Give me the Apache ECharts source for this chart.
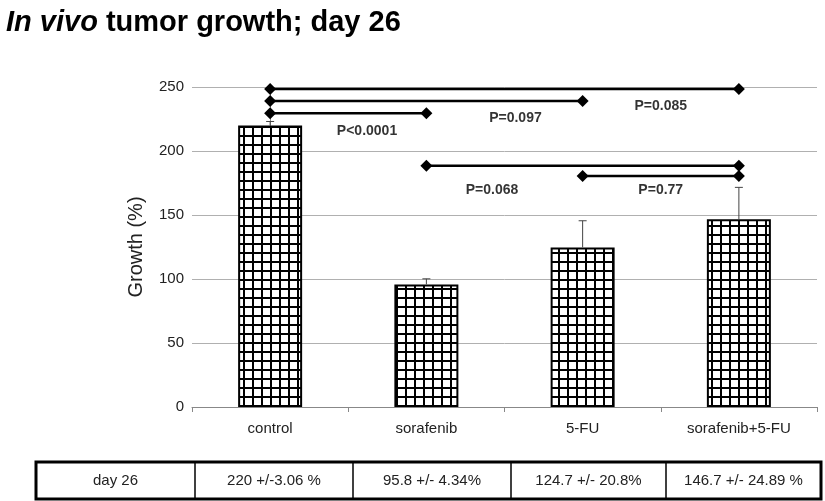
<!DOCTYPE html>
<html>
<head>
<meta charset="utf-8">
<script src="https://cdn.jsdelivr.net/npm/echarts@6/dist/echarts.min.js"></script>
<style>
  html, body { margin: 0; padding: 0; background: #fff; }
  #main { width: 825px; height: 501px; }
</style>
</head>
<body>
<div id="main"></div>
<script>
// groups and values (day 26)
var groups = ['control', 'sorafenib', '5-FU', 'sorafenib+5-FU'];
var growth = [220, 95.8, 124.7, 146.7];
var growthErr = [3.06, 4.34, 20.8, 24.89];
var yTicks = [0, 50, 100, 150, 200, 250];

// significance brackets: from group index -> to group index at height y
var bracketFrom = [0, 0, 0, 1, 2];
var bracketTo = [3, 2, 1, 3, 3];
var bracketY = [248.5, 239, 229.5, 188.5, 180.5];

// p-value labels (x in group units, y in growth units)
var pText = ['P=0.085', 'P=0.097', 'P<0.0001', 'P=0.068', 'P=0.77'];
var pX = [2.5, 1.57, 0.62, 1.42, 2.5];
var pY = [235, 226, 215.5, 169.5, 169.5];

// table under the chart
var tableRow = ['day 26', '220 +/-3.06 %', '95.8 +/- 4.34%', '124.7 +/- 20.8%', '146.7 +/- 24.89 %'];

var font = "'Liberation Sans', Arial, Helvetica, sans-serif";

// grid pattern for the bars
function makeGrid() {
  var c = document.createElement('canvas');
  c.width = 9; c.height = 9;
  var ctx = c.getContext('2d');
  ctx.fillStyle = '#fff';
  ctx.fillRect(0, 0, 9, 9);
  ctx.fillStyle = '#000';
  ctx.fillRect(0, 0, 9, 2);
  ctx.fillRect(0, 0, 2, 9);
  return c;
}

var myChart = echarts.init(document.getElementById('main'));

var series = [];

// bars
series.push({
  name: 'growth',
  type: 'bar',
  xAxisIndex: 0,
  yAxisIndex: 0,
  barWidth: 64,
  data: growth,
  itemStyle: {
    color: { image: makeGrid(), repeat: 'repeat' },
    borderColor: '#000',
    borderWidth: 2
  },
  z: 2
});

// error bars (upward only)
series.push({
  name: 'err',
  type: 'custom',
  xAxisIndex: 0,
  yAxisIndex: 0,
  data: growth.map(function (v, i) { return [i, v, growthErr[i]]; }),
  renderItem: function (params, api) {
    var base = api.coord([api.value(0), api.value(1)]);
    var top = api.coord([api.value(0), api.value(1) + api.value(2)]);
    var st = { stroke: '#444', lineWidth: 1 };
    return {
      type: 'group',
      children: [
        { type: 'line', shape: { x1: base[0], y1: base[1], x2: top[0], y2: top[1] }, style: st },
        { type: 'line', shape: { x1: top[0] - 4, y1: top[1], x2: top[0] + 4, y2: top[1] }, style: st }
      ]
    };
  },
  z: 3
});

// brackets
for (var i = 0; i < bracketY.length; i++) {
  series.push({
    type: 'line',
    xAxisIndex: 1,
    yAxisIndex: 0,
    data: [[bracketFrom[i], bracketY[i]], [bracketTo[i], bracketY[i]]],
    symbol: 'diamond',
    symbolSize: 12,
    showSymbol: true,
    lineStyle: { color: '#000', width: 2.5 },
    itemStyle: { color: '#000' },
    silent: true,
    z: 5
  });
}

// p labels
series.push({
  type: 'scatter',
  xAxisIndex: 1,
  yAxisIndex: 0,
  symbolSize: 1,
  itemStyle: { color: 'rgba(0,0,0,0)' },
  data: pX.map(function (x, i) { return [x, pY[i], pText[i]]; }),
  label: {
    show: true,
    position: 'inside',
    formatter: function (p) { return p.data[2]; },
    color: '#000',
    fontSize: 14,
    fontWeight: 'bold',
    fontFamily: font
  },
  silent: true,
  z: 6
});

// table drawn with graphic
var colEdges = [36, 195, 353, 511, 666, 821];
var tTop = 462, tBottom = 499;
var tableEls = [];
tableEls.push({
  type: 'rect',
  shape: { x: colEdges[0], y: tTop, width: colEdges[5] - colEdges[0], height: tBottom - tTop },
  style: { fill: '#fff', stroke: '#000', lineWidth: 3 }
});
for (var k = 1; k < colEdges.length - 1; k++) {
  tableEls.push({
    type: 'line',
    shape: { x1: colEdges[k], y1: tTop, x2: colEdges[k], y2: tBottom },
    style: { stroke: '#000', lineWidth: 1.5 }
  });
}
tableRow.forEach(function (t, idx) {
  tableEls.push({
    type: 'text',
    x: (colEdges[idx] + colEdges[idx + 1]) / 2,
    y: (tTop + tBottom) / 2,
    style: {
      text: t,
      fill: '#222',
      fontSize: 15,
      fontFamily: font,
      align: 'center',
      verticalAlign: 'middle'
    }
  });
});

var option = {
  backgroundColor: '#fff',
  animation: false,
  title: {
    text: '{i|In vivo} tumor growth; day 26',
    left: 1,
    top: 3,
    textStyle: {
      fontSize: 29,
      fontWeight: 'bold',
      color: '#000',
      fontFamily: font,
      rich: {
        i: { fontSize: 29, fontWeight: 'bold', fontStyle: 'italic', color: '#000', fontFamily: font }
      }
    }
  },
  grid: {
    left: 192,
    right: 8,
    top: 87,
    bottom: 94
  },
  xAxis: [{
    type: 'category',
    data: groups,
    axisLine: { lineStyle: { color: '#888' } },
    axisTick: { show: true, length: 5, lineStyle: { color: '#888' } },
    axisLabel: { color: '#222', fontSize: 15, fontFamily: font, margin: 14 },
    splitLine: { show: false }
  }, {
    type: 'value',
    min: -0.5,
    max: 3.5,
    show: false
  }],
  yAxis: {
    type: 'value',
    min: 0,
    max: 250,
    interval: 50,
    name: 'Growth (%)',
    nameLocation: 'middle',
    nameGap: 46,
    nameTextStyle: { fontSize: 20, color: '#222', fontFamily: font },
    axisLine: { show: true, lineStyle: { color: '#888' } },
    axisTick: { show: true, length: 4, lineStyle: { color: '#888' } },
    axisLabel: {
      color: '#222', fontSize: 15, fontFamily: font, margin: 8,
      formatter: function (v) { return yTicks.indexOf(v) >= 0 ? String(v) : ''; }
    },
    splitLine: { lineStyle: { color: '#b0b0b0', width: 1 } }
  },
  graphic: tableEls,
  series: series
};

myChart.setOption(option);
</script>
</body>
</html>
